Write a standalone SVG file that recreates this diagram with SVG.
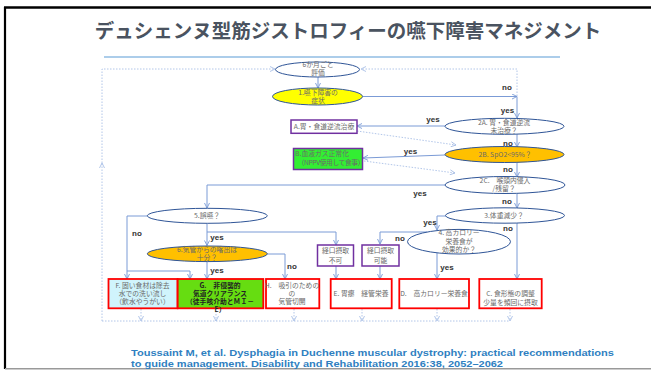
<svg xmlns="http://www.w3.org/2000/svg" width="651" height="370" viewBox="0 0 651 370">
<style>
.t{font-family:"Noto Sans CJK JP","Noto Sans",sans-serif;font-size:6.8px;fill:#6a6a6a;text-anchor:middle}
.g{font-family:"Noto Sans CJK JP","Noto Sans",sans-serif;font-size:6.8px;fill:#222;font-weight:bold;text-anchor:middle}
.l{font-family:"Liberation Sans",Arial,sans-serif;font-weight:bold;font-size:8px;fill:#333;text-anchor:middle}
.c{stroke:#7b9bd6;stroke-width:1;fill:none}
.d{stroke:#a9bfe6;stroke-width:0.9;stroke-dasharray:1.5 1.5;fill:none}
.e{stroke:#2f5597;stroke-width:1}
.r{stroke:#ff0000;stroke-width:1.8}
.p{fill:#fff;stroke:#7030a0;stroke-width:1.5}
</style>
<defs>
<marker id="a" viewBox="0 0 6 6" refX="5.5" refY="3" markerWidth="6" markerHeight="6" markerUnits="userSpaceOnUse" orient="auto"><path d="M0.5,0.5 L5.5,3 L0.5,5.5" fill="none" stroke="#7b9bd6" stroke-width="0.9"/></marker>
<marker id="b" viewBox="0 0 6 6" refX="5.5" refY="3" markerWidth="6" markerHeight="6" markerUnits="userSpaceOnUse" orient="auto"><path d="M0.5,0.5 L5.5,3 L0.5,5.5" fill="none" stroke="#a9bfe6" stroke-width="0.9"/></marker>
</defs>
<rect width="651" height="370" fill="#fff"/>
<g id="frame">
<line x1="4" y1="7.5" x2="651" y2="7.5" stroke="#000" stroke-width="2.5"/>
<line x1="5" y1="7" x2="5" y2="369" stroke="#000" stroke-width="2.2"/>
<line x1="5" y1="368.7" x2="651" y2="368.7" stroke="#999" stroke-width="1.4"/>
</g>
<g id="title">
<text x="348" y="37.5" font-family="'Noto Sans CJK JP','Noto Sans',sans-serif" font-size="19.5" font-weight="bold" fill="#4a5360" text-anchor="middle">デュシェンヌ型筋ジストロフィーの嚥下障害マネジメント</text>
<line x1="104" y1="57" x2="560" y2="57" stroke="#5b9bd5" stroke-width="1.2"/>
</g>
<g id="connectors">
<path class="c" d="M318,77 V88" marker-end="url(#a)"/>
<path class="c" d="M363,96.5 H517" marker-end="url(#a)"/>
<path class="c" d="M517,96.5 V118" marker-end="url(#a)"/>
<path class="c" d="M445,126 H357" marker-end="url(#a)"/>
<path class="c" d="M517,134 V147" marker-end="url(#a)"/>
<path class="c" d="M445,155 L363,158" marker-end="url(#a)"/>
<path class="c" d="M517,162.5 V177" marker-end="url(#a)"/>
<path class="c" d="M445,185 H207 V208" marker-end="url(#a)"/>
<path class="c" d="M517,193.5 V208" marker-end="url(#a)"/>
<path class="c" d="M446,216 H437 V230" marker-end="url(#a)"/>
<path class="c" d="M517,223 V279" marker-end="url(#a)"/>
<path class="c" d="M427,232 H380 V244" marker-end="url(#a)"/>
<path class="c" d="M437,253 V279" marker-end="url(#a)"/>
<path class="c" d="M147,216 H127 V279" marker-end="url(#a)"/>
<path class="c" d="M127,271 H190 V279" marker-end="url(#a)"/>
<path class="c" d="M207,223.5 V245.5" marker-end="url(#a)"/>
<path class="c" d="M207,232 H336 V245" marker-end="url(#a)"/>
<path class="c" d="M267,254 H285 V279" marker-end="url(#a)"/>
<path class="c" d="M207,262 V279" marker-end="url(#a)"/>
<path class="c" d="M336,266 V279" marker-end="url(#a)"/>
<path class="c" d="M380,266 V279" marker-end="url(#a)"/>
<path class="d" d="M517,96 V69 H361" marker-end="url(#b)"/>
<path class="d" d="M102,321 V163" marker-end="url(#b)"/>
<path class="d" d="M102,163 V69 H275" marker-end="url(#b)"/>
<path class="d" d="M102,321 H510"/>
<path class="d" d="M141,309 V321" marker-end="url(#b)"/>
<path class="d" d="M216,311 V321" marker-end="url(#b)"/>
<path class="d" d="M294,309 V321" marker-end="url(#b)"/>
<path class="d" d="M362,309 V321" marker-end="url(#b)"/>
<path class="d" d="M437,309 V321" marker-end="url(#b)"/>
<path class="d" d="M510,309 V321" marker-end="url(#b)"/>
<path class="d" d="M357,131 L456,145" marker-end="url(#b)"/>
<path class="d" d="M364,161 L455,173" marker-end="url(#b)"/>
<text class="l" x="507" y="90">no</text>
<text class="l" x="507.5" y="113">yes</text>
<text class="l" x="433" y="122">yes</text>
<text class="l" x="508" y="145.5">no</text>
<text class="l" x="410.5" y="153.5">yes</text>
<text class="l" x="508" y="172">no</text>
<text class="l" x="420" y="196">yes</text>
<text class="l" x="507" y="204">no</text>
<text class="l" x="430" y="224.5">yes</text>
<text class="l" x="508" y="231">no</text>
<text class="l" x="400" y="240.5">no</text>
<text class="l" x="447" y="269.5">yes</text>
<text class="l" x="137" y="236">no</text>
<text class="l" x="217" y="239.5">yes</text>
<text class="l" x="217" y="273">yes</text>
<text class="l" x="292" y="269">no</text>
</g>
<g id="n0"><ellipse class="e" cx="317.5" cy="69.5" rx="42" ry="7.5" fill="#fff"/><text class="t" x="318" y="67"><tspan x="318">6か月ごと</tspan><tspan x="318" dy="8">評価</tspan></text></g>
<g id="n1"><ellipse class="e" cx="317.5" cy="96.5" rx="45" ry="8.5" fill="#ffff00"/><text class="t" x="318" y="94.8"><tspan x="318">1.嚥下障害の</tspan><tspan x="318" dy="7.7">症状</tspan></text></g>
<g id="nA"><rect class="p" x="291" y="120" width="66" height="13.3"/><text class="t" x="324" y="129.3">A.胃・食道逆流治療</text></g>
<g id="nB"><rect x="293.5" y="148.5" width="69" height="21" fill="#33ee33" stroke="#7030a0" stroke-width="1.5"/><text class="t" x="322" y="155.8"><tspan x="322">B.血液ガス正常化</tspan><tspan x="331" dy="9.4" textLength="67">（NPPV使用して食事）</tspan></text></g>
<g id="n2A"><ellipse class="e" cx="504.5" cy="126.3" rx="59.5" ry="8" fill="#fff"/><text class="t" x="504" y="125.2"><tspan x="504">2A. 胃・食道逆流</tspan><tspan x="504" dy="7.4">未治療？</tspan></text></g>
<g id="n2B"><ellipse class="e" cx="504.5" cy="154.5" rx="59.5" ry="8" fill="#ffc000"/><text class="t" x="505" y="157">2B.  SpO2&lt;95%？</text></g>
<g id="n2C"><ellipse class="e" cx="505" cy="185" rx="60" ry="8.5" fill="#fff"/><text class="t" x="505" y="182.5"><tspan x="505">2C.　喉頭内侵入</tspan><tspan x="504" dy="8.3">/残留？</tspan></text></g>
<g id="n3"><ellipse class="e" cx="505" cy="215.5" rx="59.5" ry="7.7" fill="#fff"/><text class="t" x="504" y="217.8">3.体重減少？</text></g>
<g id="n4"><ellipse class="e" cx="459" cy="241.7" rx="51.5" ry="12.3" fill="#fff"/><text class="t" x="459" y="235.2"><tspan x="459">4. 高カロリー</tspan><tspan x="459" dy="8.3">栄養食が</tspan><tspan x="459" dy="8.3">効果的か？</tspan></text></g>
<g id="n5"><ellipse class="e" cx="207.3" cy="215.8" rx="60" ry="7.5" fill="#fff"/><text class="t" x="207" y="218.4">5.誤嚥？</text></g>
<g id="n6"><ellipse class="e" cx="207.3" cy="253.8" rx="60" ry="7.8" fill="#ffc000"/><text class="t" x="207" y="251.8"><tspan x="207">6.気管からの喀出は</tspan><tspan x="207" dy="8.4">十分？</tspan></text></g>
<g id="nNG"><rect class="p" x="317.5" y="245" width="36" height="21"/><text class="t" x="335.5" y="253.2"><tspan x="335.5">経口摂取</tspan><tspan x="335.5" dy="10">不可</tspan></text></g>
<g id="nOK"><rect class="p" x="362" y="245" width="37" height="21"/><text class="t" x="380.5" y="253.2"><tspan x="380.5">経口摂取</tspan><tspan x="380.5" dy="10">可能</tspan></text></g>
<g id="nF"><rect class="r" x="108.5" y="279" width="69" height="29.3" fill="#d0f4fc"/><text class="t" x="142.5" y="287.5"><tspan x="142.5">F. 固い食材は除去</tspan><tspan x="142.5" dy="8.3">水での洗い流し</tspan><tspan x="142.5" dy="8.3">（飲水やうがい）</tspan></text></g>
<g id="nG"><rect class="r" x="177.7" y="279" width="85.6" height="29.3" fill="#66dd11"/><text class="g" x="220" y="287.5"><tspan x="220">G.　非侵襲的</tspan><tspan x="220" dy="8.3">気道クリアランス</tspan><tspan x="220" dy="8.3">（徒手咳介助とＭＩ－</tspan><tspan x="220" dy="8.3">E）</tspan></text></g>
<g id="nH"><rect class="r" x="266" y="279" width="53.3" height="29.3" fill="#fff"/><text class="t" x="292" y="287.5"><tspan x="292">H.　吸引のための</tspan><tspan x="292" dy="8.3">の</tspan><tspan x="292" dy="8.3">気管切開</tspan></text></g>
<g id="nE"><rect class="r" x="330.7" y="279" width="61" height="29.3" fill="#fff"/><text class="t" x="361" y="295.8">E. 胃瘻　経管栄養</text></g>
<g id="nD"><rect class="r" x="399.3" y="279" width="69.7" height="29.3" fill="#fff"/><text class="t" x="434" y="295.8">D.　高カロリー栄養食</text></g>
<g id="nC"><rect class="r" x="479.3" y="279" width="62.4" height="29.3" fill="#fff"/><text class="t" x="510.5" y="295.8"><tspan x="510.5">C. 食形態の調整</tspan><tspan x="510.5" dy="9">少量を頻回に摂取</tspan></text></g>
<g id="ref" font-family="'Liberation Sans',Arial,sans-serif" font-size="9.6" font-weight="bold" fill="#2f7fc1">
<text x="131" y="356" textLength="483" lengthAdjust="spacingAndGlyphs">Toussaint M, et al. Dysphagia in Duchenne muscular dystrophy: practical recommendations</text>
<text x="131" y="366.8" textLength="372" lengthAdjust="spacingAndGlyphs">to guide management. Disability and Rehabilitation 2016:38, 2052–2062</text>
</g>
</svg>
